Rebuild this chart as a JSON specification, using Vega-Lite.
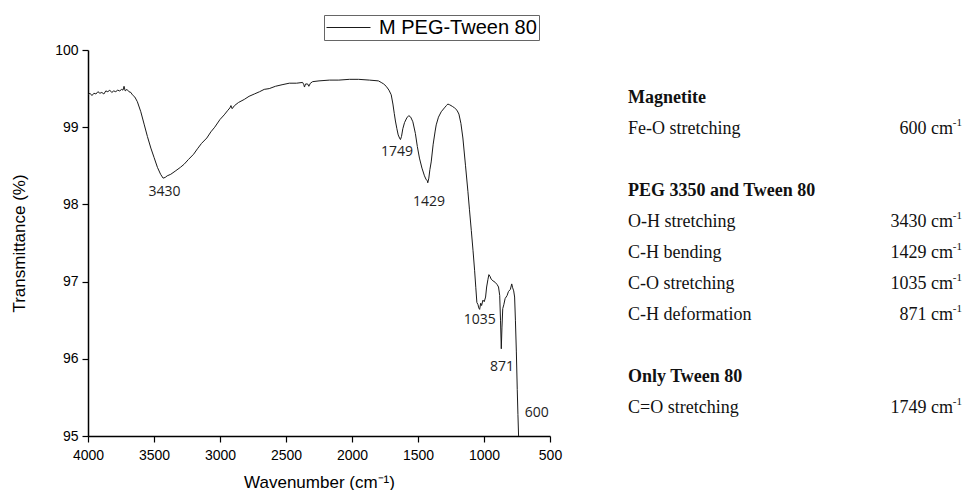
{
  "$schema": "https://vega.github.io/schema/vega-lite/v6.json",
  "background": "white",
  "padding": {"left": 10, "top": 14, "right": 0, "bottom": 0},
  "bounds": "flush",
  "spacing": 78,
  "config": {"view": {"stroke": null}, "font": "Liberation Sans"},
  "hconcat": [
    {
      "width": 462,
      "height": 386,
      "layer": [
        {
          "data": {"values": [
            {"wn":4000,"t":99.42},{"wn":3985,"t":99.44},{"wn":3970,"t":99.41},{"wn":3955,"t":99.44},{"wn":3940,"t":99.43},{"wn":3925,"t":99.46},{"wn":3910,"t":99.44},{"wn":3895,"t":99.45},{"wn":3880,"t":99.43},{"wn":3865,"t":99.47},{"wn":3850,"t":99.46},{"wn":3835,"t":99.48},{"wn":3820,"t":99.45},{"wn":3805,"t":99.47},{"wn":3790,"t":99.46},{"wn":3775,"t":99.48},{"wn":3760,"t":99.47},{"wn":3745,"t":99.49},{"wn":3735,"t":99.48},{"wn":3727,"t":99.53},{"wn":3718,"t":99.47},{"wn":3705,"t":99.49},{"wn":3690,"t":99.46},{"wn":3675,"t":99.45},{"wn":3664,"t":99.42},{"wn":3645,"t":99.39},{"wn":3626,"t":99.33},{"wn":3600,"t":99.2},{"wn":3575,"t":99.04},{"wn":3550,"t":98.88},{"wn":3524,"t":98.73},{"wn":3500,"t":98.61},{"wn":3474,"t":98.48},{"wn":3450,"t":98.39},{"wn":3431,"t":98.34},{"wn":3415,"t":98.35},{"wn":3400,"t":98.37},{"wn":3373,"t":98.39},{"wn":3340,"t":98.43},{"wn":3300,"t":98.48},{"wn":3272,"t":98.52},{"wn":3240,"t":98.58},{"wn":3200,"t":98.65},{"wn":3171,"t":98.72},{"wn":3140,"t":98.79},{"wn":3100,"t":98.86},{"wn":3069,"t":98.94},{"wn":3040,"t":99.0},{"wn":3000,"t":99.1},{"wn":2968,"t":99.16},{"wn":2940,"t":99.22},{"wn":2925,"t":99.25},{"wn":2917,"t":99.28},{"wn":2908,"t":99.24},{"wn":2890,"t":99.28},{"wn":2860,"t":99.32},{"wn":2816,"t":99.36},{"wn":2780,"t":99.4},{"wn":2740,"t":99.43},{"wn":2700,"t":99.46},{"wn":2665,"t":99.49},{"wn":2627,"t":99.5},{"wn":2580,"t":99.53},{"wn":2530,"t":99.55},{"wn":2475,"t":99.57},{"wn":2420,"t":99.57},{"wn":2374,"t":99.58},{"wn":2365,"t":99.55},{"wn":2360,"t":99.52},{"wn":2352,"t":99.56},{"wn":2336,"t":99.56},{"wn":2327,"t":99.53},{"wn":2315,"t":99.57},{"wn":2298,"t":99.59},{"wn":2250,"t":99.6},{"wn":2171,"t":99.61},{"wn":2100,"t":99.61},{"wn":2020,"t":99.62},{"wn":1950,"t":99.62},{"wn":1868,"t":99.61},{"wn":1800,"t":99.6},{"wn":1779,"t":99.58},{"wn":1760,"t":99.56},{"wn":1741,"t":99.53},{"wn":1720,"t":99.48},{"wn":1703,"t":99.42},{"wn":1690,"t":99.3},{"wn":1680,"t":99.18},{"wn":1671,"t":99.08},{"wn":1660,"t":98.98},{"wn":1650,"t":98.9},{"wn":1640,"t":98.86},{"wn":1633,"t":98.84},{"wn":1625,"t":98.88},{"wn":1615,"t":98.98},{"wn":1602,"t":99.06},{"wn":1585,"t":99.12},{"wn":1570,"t":99.15},{"wn":1555,"t":99.13},{"wn":1539,"t":99.07},{"wn":1520,"t":98.92},{"wn":1505,"t":98.75},{"wn":1489,"t":98.6},{"wn":1470,"t":98.47},{"wn":1451,"t":98.37},{"wn":1438,"t":98.32},{"wn":1430,"t":98.31},{"wn":1426,"t":98.28},{"wn":1418,"t":98.34},{"wn":1410,"t":98.45},{"wn":1400,"t":98.55},{"wn":1385,"t":98.78},{"wn":1370,"t":98.95},{"wn":1362,"t":99.03},{"wn":1345,"t":99.13},{"wn":1324,"t":99.2},{"wn":1300,"t":99.25},{"wn":1285,"t":99.28},{"wn":1274,"t":99.3},{"wn":1260,"t":99.29},{"wn":1240,"t":99.27},{"wn":1223,"t":99.25},{"wn":1205,"t":99.22},{"wn":1190,"t":99.17},{"wn":1175,"t":99.05},{"wn":1160,"t":98.86},{"wn":1140,"t":98.5},{"wn":1122,"t":98.17},{"wn":1110,"t":97.93},{"wn":1096,"t":97.66},{"wn":1083,"t":97.4},{"wn":1071,"t":97.14},{"wn":1062,"t":96.92},{"wn":1054,"t":96.73},{"wn":1045,"t":96.7},{"wn":1040,"t":96.66},{"wn":1033,"t":96.64},{"wn":1025,"t":96.72},{"wn":1018,"t":96.69},{"wn":1008,"t":96.76},{"wn":998,"t":96.74},{"wn":988,"t":96.8},{"wn":980,"t":96.93},{"wn":970,"t":97.03},{"wn":963,"t":97.09},{"wn":955,"t":97.07},{"wn":945,"t":97.03},{"wn":932,"t":97.01},{"wn":915,"t":96.99},{"wn":900,"t":96.96},{"wn":890,"t":96.93},{"wn":881,"t":96.82},{"wn":875,"t":96.5},{"wn":869,"t":96.13},{"wn":864,"t":96.4},{"wn":858,"t":96.65},{"wn":850,"t":96.7},{"wn":840,"t":96.78},{"wn":825,"t":96.82},{"wn":815,"t":96.87},{"wn":800,"t":96.9},{"wn":790,"t":96.97},{"wn":783,"t":96.92},{"wn":775,"t":96.88},{"wn":768,"t":96.8},{"wn":762,"t":96.5},{"wn":755,"t":96.1},{"wn":748,"t":95.6},{"wn":743,"t":95.28},{"wn":738,"t":95.0}
          ]},
          "mark": {"type": "line", "strokeWidth": 1, "interpolate": "linear"},
          "encoding": {
            "x": {
              "field": "wn", "type": "quantitative",
              "scale": {"domain": [500, 4000], "reverse": true, "nice": false, "zero": false},
              "axis": {
                "title": "Wavenumber (cm⁻¹)",
                "values": [500,750,1000,1250,1500,1750,2000,2250,2500,2750,3000,3250,3500,3750,4000],
                "format": "d",
                "labelExpr": "datum.value % 500 === 0 ? datum.label : ''",
                "labelFlush": false,
                "labelOverlap": false,
                "labelFont": "Liberation Sans",
                "labelFontSize": 14,
                "labelColor": "#000",
                "labelPadding": 6,
                "tickSize": {"condition": {"test": "datum.value % 500 === 0", "value": 6}, "value": 3},
                "tickColor": "#000",
                "tickWidth": 1.2,
                "domainColor": "#000",
                "domainWidth": 1.5,
                "grid": false,
                "titleFont": "Liberation Sans",
                "titleFontSize": 17,
                "titleFontWeight": "normal",
                "titleColor": "#000",
                "titlePadding": 12
              }
            },
            "y": {
              "field": "t", "type": "quantitative",
              "scale": {"domain": [95, 100], "nice": false, "zero": false},
              "axis": {
                "title": "Transmittance (%)",
                "values": [95,95.5,96,96.5,97,97.5,98,98.5,99,99.5,100],
                "labelExpr": "datum.value % 1 === 0 ? format(datum.value, 'd') : ''",
                "labelOverlap": false,
                "labelFont": "Liberation Sans",
                "labelFontSize": 14,
                "labelColor": "#000",
                "labelPadding": 4,
                "tickSize": {"condition": {"test": "datum.value % 1 === 0", "value": 6}, "value": 3},
                "tickColor": "#000",
                "tickWidth": 1.2,
                "domainColor": "#000",
                "domainWidth": 1.5,
                "grid": false,
                "titleFont": "Liberation Sans",
                "titleFontSize": 17,
                "titleFontWeight": "normal",
                "titleColor": "#000",
                "titlePadding": 26
              }
            },
            "color": {
              "datum": "M PEG-Tween 80",
              "scale": {"range": ["#1a1a1a"]},
              "legend": {
                "orient": "none",
                "legendX": 236,
                "legendY": -35,
                "title": null,
                "strokeColor": "#666",
                "padding": 2,
                "labelFont": "Liberation Sans",
                "labelFontSize": 20,
                "labelColor": "#000",
                "labelOffset": 32,
                "symbolType": "M-1,0H3.4",
                "symbolSize": 400,
                "symbolStrokeWidth": 1
              }
            }
          }
        },
        {
          "data": {"values": [
            {"wn":3420,"t":98.16,"label":"3430"},
            {"wn":1659,"t":98.68,"label":"1749"},
            {"wn":1417,"t":98.03,"label":"1429"},
            {"wn":1033,"t":96.5,"label":"1035"},
            {"wn":863,"t":95.89,"label":"871"},
            {"wn":601,"t":95.3,"label":"600"}
          ]},
          "mark": {"type": "text", "font": "Open Sans", "fontSize": 14, "color": "#222", "baseline": "middle", "align": "center"},
          "encoding": {
            "x": {"field": "wn", "type": "quantitative"},
            "y": {"field": "t", "type": "quantitative"},
            "text": {"field": "label"}
          }
        }
      ]
    },
    {
      "width": 334,
      "height": 386,
      "data": {"values": [
        {"line":0,"kind":"head","text":"Magnetite"},
        {"line":1,"kind":"item","text":"Fe-O stretching","value":"600 cm","sup":"-1"},
        {"line":3,"kind":"head","text":"PEG 3350 and Tween 80"},
        {"line":4,"kind":"item","text":"O-H stretching","value":"3430 cm","sup":"-1"},
        {"line":5,"kind":"item","text":"C-H bending","value":"1429 cm","sup":"-1"},
        {"line":6,"kind":"item","text":"C-O stretching","value":"1035 cm","sup":"-1"},
        {"line":7,"kind":"item","text":"C-H deformation","value":"871 cm","sup":"-1"},
        {"line":9,"kind":"head","text":"Only Tween 80"},
        {"line":10,"kind":"item","text":"C=O stretching","value":"1749 cm","sup":"-1"}
      ]},
      "encoding": {
        "y": {"field": "line", "type": "quantitative", "scale": {"domain": [-1.548, 10.903], "reverse": true, "nice": false, "zero": false}, "axis": null}
      },
      "layer": [
        {
          "transform": [{"filter": "datum.kind === 'head'"}],
          "mark": {"type": "text", "font": "Liberation Serif", "fontSize": 18, "fontWeight": "bold", "align": "left", "baseline": "middle", "color": "#111"},
          "encoding": {
            "x": {"datum": 0, "type": "quantitative", "scale": {"domain": [0, 1], "nice": false, "zero": false}, "axis": null},
            "text": {"field": "text"}
          }
        },
        {
          "transform": [{"filter": "datum.kind === 'item'"}],
          "mark": {"type": "text", "font": "Liberation Serif", "fontSize": 18, "align": "left", "baseline": "middle", "color": "#111"},
          "encoding": {
            "x": {"datum": 0, "type": "quantitative"},
            "text": {"field": "text"}
          }
        },
        {
          "transform": [{"filter": "datum.kind === 'item'"}],
          "mark": {"type": "text", "font": "Liberation Serif", "fontSize": 18, "align": "right", "baseline": "middle", "color": "#111", "dx": -9},
          "encoding": {
            "x": {"datum": 1, "type": "quantitative"},
            "text": {"field": "value"}
          }
        },
        {
          "transform": [{"filter": "datum.kind === 'item'"}],
          "mark": {"type": "text", "font": "Liberation Serif", "fontSize": 11, "align": "right", "baseline": "middle", "color": "#111", "dy": -6},
          "encoding": {
            "x": {"datum": 1, "type": "quantitative"},
            "text": {"field": "sup"}
          }
        }
      ]
    }
  ]
}
